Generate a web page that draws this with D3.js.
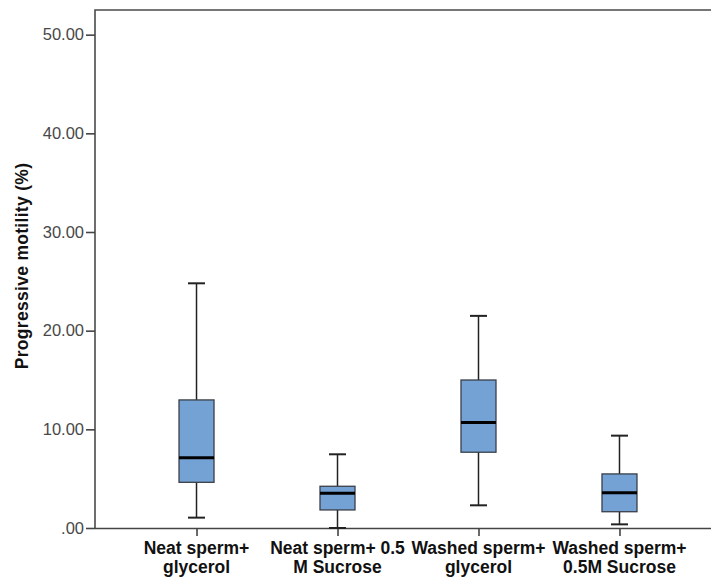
<!DOCTYPE html>
<html>
<head>
<meta charset="utf-8">
<script src="https://cdn.jsdelivr.net/npm/d3@7"></script>
<style>
  html, body { margin: 0; padding: 0; background: #fff; }
  svg { display: block; }
  text { font-family: Arial, "Liberation Sans", sans-serif; }
</style>
</head>
<body>
<svg id="chart" width="711" height="579"></svg>
<script>
// Treatment groups (label lines as printed under each box)
const categories = ["Neat glycerol", "Neat sucrose", "Washed glycerol", "Washed sucrose"];
const categoryLines = [
  ["Neat sperm+", "glycerol"],
  ["Neat sperm+ 0.5", "M Sucrose"],
  ["Washed sperm+", "glycerol"],
  ["Washed sperm+", "0.5M Sucrose"]
];

// Five-number summaries of progressive motility (%)
const whiskerLow  = [1.05, 0.00, 2.30, 0.37];
const q1          = [4.63, 1.83, 7.68, 1.65];
const median      = [7.13, 3.52, 10.68, 3.58];
const q3          = [12.98, 4.23, 15.00, 5.48];
const whiskerHigh = [24.80, 7.47, 21.50, 9.36];

const yTicks = [0, 10, 20, 30, 40, 50];
const yTickLabels = [".00", "10.00", "20.00", "30.00", "40.00", "50.00"];

const svg = d3.select("#chart");

const plot = { left: 95, right: 721, top: 10, bottom: 528 };

const y = d3.scaleLinear().domain([0, 52.5]).range([plot.bottom, plot.top]);
const x = d3.scalePoint().domain(categories).range([plot.left, plot.right]).padding(0.72);

const boxWidth = 35;
const capWidth = 17;

// Plot frame (top and left edges; right edge falls outside the canvas)
svg.append("path")
  .attr("d", `M${plot.left},${plot.bottom} V${plot.top} H${plot.right}`)
  .attr("fill", "none")
  .attr("stroke", "#4a4a4a")
  .attr("stroke-width", 1.6);

// Y axis
const yAxis = d3.axisLeft(y)
  .tickValues(yTicks)
  .tickFormat((d, i) => yTickLabels[i])
  .tickSize(9)
  .tickPadding(2);
const gy = svg.append("g")
  .attr("transform", `translate(${plot.left},0)`)
  .call(yAxis);
gy.select(".domain").remove();
gy.selectAll(".tick line").attr("stroke", "#444").attr("stroke-width", 1.6);
gy.selectAll(".tick text")
  .attr("fill", "#484848")
  .style("font-size", "16.5px");

// X axis
const xAxis = d3.axisBottom(x).tickSize(8).tickFormat("");
const gx = svg.append("g")
  .attr("transform", `translate(0,${plot.bottom})`)
  .call(xAxis);
gx.select(".domain")
  .attr("d", `M${plot.left},0.5H${plot.right}`)
  .attr("stroke", "#444")
  .attr("stroke-width", 1.6);
gx.selectAll(".tick line").attr("stroke", "#444").attr("stroke-width", 1.6);

// Category labels, two lines each
const labels = svg.append("g").selectAll("text")
  .data(categories)
  .join("text")
  .attr("text-anchor", "middle")
  .attr("fill", "#111")
  .style("font-size", "17.5px")
  .style("font-weight", "bold");
labels.each(function (d, i) {
  const t = d3.select(this);
  categoryLines[i].forEach((line, j) => {
    t.append("tspan")
      .attr("x", x(d))
      .attr("y", 554 + j * 19)
      .text(line);
  });
});

// Y axis title
svg.append("text")
  .attr("transform", "translate(28,266) rotate(-90)")
  .attr("text-anchor", "middle")
  .attr("fill", "#111")
  .style("font-size", "17.5px")
  .style("font-weight", "bold")
  .style("letter-spacing", "0.3px")
  .text("Progressive motility (%)");

// Box plots
const boxes = svg.append("g").selectAll("g")
  .data(categories)
  .join("g");

// whisker stems
boxes.append("line")
  .attr("x1", d => x(d)).attr("x2", d => x(d))
  .attr("y1", (d, i) => y(whiskerLow[i]))
  .attr("y2", (d, i) => y(whiskerHigh[i]))
  .attr("stroke", "#222").attr("stroke-width", 1.5);

// whisker caps
[whiskerLow, whiskerHigh].forEach(arr => {
  boxes.append("line")
    .attr("x1", d => x(d) - capWidth / 2).attr("x2", d => x(d) + capWidth / 2)
    .attr("y1", (d, i) => y(arr[i])).attr("y2", (d, i) => y(arr[i]))
    .attr("stroke", "#222").attr("stroke-width", 2);
});

// interquartile boxes
boxes.append("rect")
  .attr("x", d => x(d) - boxWidth / 2)
  .attr("width", boxWidth)
  .attr("y", (d, i) => y(q3[i]))
  .attr("height", (d, i) => y(q1[i]) - y(q3[i]))
  .attr("fill", "#74a2d5")
  .attr("stroke", "#3a3f48")
  .attr("stroke-width", 1.3);

// medians
boxes.append("line")
  .attr("x1", d => x(d) - boxWidth / 2).attr("x2", d => x(d) + boxWidth / 2)
  .attr("y1", (d, i) => y(median[i])).attr("y2", (d, i) => y(median[i]))
  .attr("stroke", "#000").attr("stroke-width", 3);
</script>
</body>
</html>
